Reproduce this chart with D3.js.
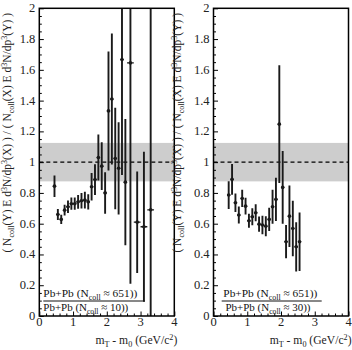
<!DOCTYPE html>
<html>
<head>
<meta charset="utf-8">
<script src="https://cdn.jsdelivr.net/npm/d3@7"></script>
<style>
  html, body { margin: 0; padding: 0; background: #fff; }
  svg { display: block; }
</style>
</head>
<body>
<svg id="chart" width="352" height="350"></svg>
<script>
// Left panel: central (651) / peripheral (10)
const leftMt = [0.45, 0.55, 0.65, 0.75, 0.85, 0.95, 1.05, 1.15, 1.25, 1.35, 1.45, 1.55, 1.65,
                1.75, 1.85, 1.95, 2.05, 2.15, 2.25, 2.35, 2.45, 2.55, 2.7, 2.9, 3.1, 3.3];
const leftRatio = [0.844, 0.66, 0.628, 0.688, 0.71, 0.73, 0.73, 0.742, 0.749, 0.753, 0.742, 0.84, 0.887,
                   1.03, 0.974, 0.80, 1.333, 1.41, 1.024, 0.96, 1.667, 0.87, 1.645, 0.61, 0.58, 0.69];
const leftErr = [0.07, 0.036, 0.03, 0.035, 0.04, 0.04, 0.04, 0.045, 0.05, 0.055, 0.05, 0.09, 0.10,
                 0.15, 0.155, 0.135, 0.387, 0.426, 0.33, 0.30, 0.75, 0.41, 1.435, 0.33, 0.487, 1.5];
const leftXErr = [0.05, 0.05, 0.05, 0.05, 0.05, 0.05, 0.05, 0.05, 0.05, 0.05, 0.05, 0.05, 0.05,
                  0.05, 0.05, 0.05, 0.05, 0.05, 0.05, 0.05, 0.05, 0.05, 0.1, 0.1, 0.1, 0.1];

// Right panel: central (651) / mid-central (30)
const rightMt = [0.45, 0.55, 0.65, 0.75, 0.85, 0.95, 1.05, 1.15, 1.25, 1.35, 1.45,
                 1.55, 1.65, 1.75, 1.85, 1.95, 2.05, 2.15, 2.25, 2.35, 2.45, 2.55];
const rightRatio = [0.786, 0.888, 0.736, 0.656, 0.764, 0.714, 0.619, 0.645, 0.671, 0.597, 0.591,
                    0.584, 0.628, 0.71, 0.758, 1.247, 0.836, 0.483, 0.649, 0.569, 0.45, 0.483];
const rightErr = [0.09, 0.10, 0.06, 0.055, 0.056, 0.055, 0.045, 0.055, 0.055, 0.05, 0.06,
                  0.065, 0.075, 0.11, 0.14, 0.383, 0.237, 0.108, 0.2, 0.18, 0.16, 0.19];

const xTicks = [0, 1, 2, 3, 4];
const yTicks = [0, 0.2, 0.4, 0.6, 0.8, 1, 1.2, 1.4, 1.6, 1.8, 2];
const band = [0.875, 1.125];

const yTitle = [['( N', 'n'], ['coll', 'sub'], ['(Y) E d', 'n'], ['3', 'sup'], ['N/dp', 'n'], ['3', 'sup'],
                ['(X) ) / ( N', 'n'], ['coll', 'sub'], ['(X) E d', 'n'], ['3', 'sup'], ['N/dp', 'n'], ['3', 'sup'], ['(Y) )', 'n']];
const xTitle = [['m', 'n'], ['T', 'sub'], [' - m', 'n'], ['0', 'sub'], [' (GeV/c', 'n'], ['2', 'sup'], [')', 'n']];

const panels = [
  { x0: 39.3, x1: 174.3, mt: leftMt, ratio: leftRatio, err: leftErr, xerr: leftXErr,
    num: 'Pb+Pb (N|651)', den: 'Pb+Pb (N|10)', fracX: [43.3, 145], numX: 43.3, denX: 43.3, yTitleX: 11 },
  { x0: 213.5, x1: 348.5, mt: rightMt, ratio: rightRatio, err: rightErr, xerr: rightMt.map(() => 0.05),
    num: 'Pb+Pb (N|651)', den: 'Pb+Pb (N|30)', fracX: [221.7, 321.7], numX: 223.3, denX: 225.5, yTitleX: 181 }
];

const serif = 'Liberation Serif';
const yTop = 8.3, yBot = 316;
const svg = d3.select('#chart');

// text with sub/superscripts; optional target length rescales the font size
function rich(text, parts, size, fitLen) {
  text.attr('font-family', serif).selectAll('tspan').remove();
  let shift = 0;
  parts.forEach(([s, kind]) => {
    const target = kind === 'sub' ? size * 0.3 : kind === 'sup' ? -size * 0.38 : 0;
    text.append('tspan')
      .attr('dy', target - shift)
      .attr('font-size', kind === 'n' ? size : size * 0.7)
      .text(s);
    shift = target;
  });
  if (fitLen) {
    const len = text.node().getComputedTextLength();
    if (len > 0 && Math.abs(len - fitLen) > 2) rich(text, parts, size * fitLen / len);
  }
}

function legendParts(label) {
  const [a, b] = label.split('|');
  return [[a, 'n'], ['coll', 'sub'], [' \u2248 ' + b + ')', 'n']];
}

panels.forEach((p, i) => {
  const x = d3.scaleLinear().domain([0, 4]).range([p.x0, p.x1]);
  const y = d3.scaleLinear().domain([0, 2]).range([yBot, yTop]);

  const clipId = 'clip' + i;
  svg.append('clipPath').attr('id', clipId)
    .append('rect')
    .attr('x', p.x0).attr('y', yTop)
    .attr('width', p.x1 - p.x0).attr('height', yBot - yTop);

  const g = svg.append('g');

  // systematic band
  g.append('rect')
    .attr('x', p.x0).attr('width', p.x1 - p.x0)
    .attr('y', y(band[1])).attr('height', y(band[0]) - y(band[1]))
    .attr('fill', '#cdcdcd');

  // dashed unity line
  g.append('line')
    .attr('x1', p.x0).attr('x2', p.x1)
    .attr('y1', y(1)).attr('y2', y(1))
    .attr('stroke', '#000').attr('stroke-width', 1.4)
    .attr('stroke-dasharray', '4,3');

  // data
  const dg = g.append('g').attr('clip-path', `url(#${clipId})`);
  p.mt.forEach((m, k) => {
    const v = p.ratio[k], e = p.err[k], xe = p.xerr[k];
    dg.append('line')
      .attr('x1', x(m)).attr('x2', x(m))
      .attr('y1', y(v - e)).attr('y2', y(v + e))
      .attr('stroke', '#1a1a1a').attr('stroke-width', 1.9);
    dg.append('line')
      .attr('x1', x(m - xe)).attr('x2', x(m + xe))
      .attr('y1', y(v)).attr('y2', y(v))
      .attr('stroke', '#1a1a1a').attr('stroke-width', 1.3);
    dg.append('circle')
      .attr('cx', x(m)).attr('cy', y(v)).attr('r', 1.8)
      .attr('fill', '#1a1a1a');
  });

  // axes: ticks pointing inward
  const xAxis = g.append('g')
    .attr('transform', `translate(0,${yBot})`)
    .call(d3.axisBottom(x).tickValues(d3.range(0, 4.001, 0.2)).tickSize(-2.5).tickFormat(''));
  xAxis.selectAll('.tick line').filter(d => Math.abs(d - Math.round(d)) < 1e-6).attr('y2', -4.5);
  xAxis.select('.domain').remove();
  xAxis.selectAll('.tick line').attr('stroke', '#000').attr('stroke-width', 1);

  const yAxis = g.append('g')
    .attr('transform', `translate(${p.x0},0)`)
    .call(d3.axisLeft(y).tickValues(d3.range(0, 2.001, 0.05)).tickSize(-2.5).tickFormat(''));
  yAxis.selectAll('.tick line').filter(d => Math.abs(d * 5 - Math.round(d * 5)) < 1e-6).attr('x2', 4.5);
  yAxis.select('.domain').remove();
  yAxis.selectAll('.tick line').attr('stroke', '#000').attr('stroke-width', 1);

  // tick labels
  g.selectAll('.xl').data(xTicks).enter().append('text')
    .attr('x', d => x(d)).attr('y', yBot + 10)
    .attr('text-anchor', 'middle').attr('font-size', 12.5).attr('fill', '#222')
    .attr('font-family', serif)
    .text(d => d);
  g.selectAll('.yl').data(yTicks).enter().append('text')
    .attr('x', p.x0 - 4).attr('y', d => y(d) + 4)
    .attr('text-anchor', 'end').attr('font-size', 12.5).attr('fill', '#222')
    .attr('font-family', serif)
    .text(d => d3.format('~g')(d));

  // frame
  g.append('rect')
    .attr('x', p.x0).attr('y', yTop)
    .attr('width', p.x1 - p.x0).attr('height', yBot - yTop)
    .attr('fill', 'none').attr('stroke', '#000').attr('stroke-width', 1.5);

  // axis titles
  const xt = g.append('text')
    .attr('x', p.x1 + 3).attr('y', 344)
    .attr('text-anchor', 'end').attr('fill', '#222');
  rich(xt, xTitle, 12, 82);

  const yt = g.append('text')
    .attr('transform', `translate(${p.yTitleX},13) rotate(-90)`)
    .attr('text-anchor', 'end').attr('fill', '#222');
  rich(yt, yTitle, 11.5, 240);

  // centrality ratio label
  const nt = g.append('text').attr('x', p.numX).attr('y', 297).attr('fill', '#111');
  rich(nt, legendParts(p.num), 12, 94);
  g.append('line')
    .attr('x1', p.fracX[0]).attr('x2', p.fracX[1])
    .attr('y1', 301).attr('y2', 301)
    .attr('stroke', '#111').attr('stroke-width', 1);
  const dt = g.append('text').attr('x', p.denX).attr('y', 310.5).attr('fill', '#111');
  rich(dt, legendParts(p.den), 12, 85);
});
</script>
</body>
</html>
